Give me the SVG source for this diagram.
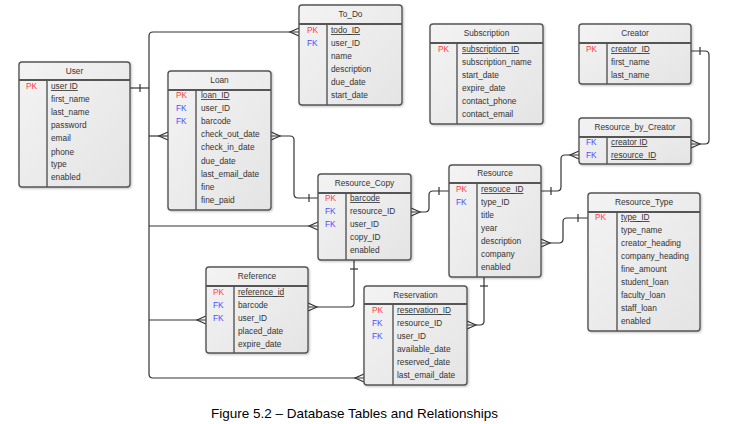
<svg xmlns="http://www.w3.org/2000/svg" width="756" height="424" viewBox="0 0 756 424">
<defs>
<linearGradient id="g" x1="0" y1="0" x2="1" y2="1">
<stop offset="0" stop-color="#f3f3f3"/>
<stop offset="1" stop-color="#e4e4e4"/>
</linearGradient>
<filter id="sh" x="-10%" y="-10%" width="130%" height="130%">
<feDropShadow dx="1" dy="1" stdDeviation="0.8" flood-color="#000" flood-opacity="0.25"/>
</filter>
</defs>
<style>
.box{fill:url(#g);stroke:#555;stroke-width:1.4;filter:url(#sh)}
.hd{stroke:#555;stroke-width:1.8}
.dv{stroke:#555;stroke-width:1.4}
text{font-family:"Liberation Sans",Arial,sans-serif;font-size:8.3px;fill:#333}
.t{text-anchor:middle}
.pk{fill:#ff3b3b}
.fk{fill:#4a4aff}
.u{text-decoration:underline}
.c{fill:none;stroke:#333;stroke-width:1.2}
.cap{font-size:13.5px;fill:#000;text-anchor:middle}
</style>
<rect width="756" height="424" fill="#fff"/>

<g id="connectors" class="c">
<path d="M130,88 H149"/>
<path d="M140,84 V92"/>
<path d="M299,32 H153 Q149,32 149,36 V374 Q149,378 153,378 H364"/>
<path d="M299,28 L290,32 L299,36"/>
<path d="M149,136 H168"/>
<path d="M168,132 L159,136 L168,140"/>
<path d="M149,226 H318"/>
<path d="M318,222 L309,226 L318,230"/>
<path d="M149,320 H206"/>
<path d="M206,316 L197,320 L206,324"/>
<path d="M364,374 L355,378 L364,382"/>
<path d="M271,136 H290 Q294,136 294,140 V194 Q294,198 298,198 H318"/>
<path d="M271,132 L280,136 L271,140"/>
<path d="M309,194 V202"/>
<path d="M411,212 H425 Q429,212 429,208 V195 Q429,191 433,191 H449"/>
<path d="M411,208 L420,212 L411,216"/>
<path d="M439,187 V195"/>
<path d="M541,191 H557 Q561,191 561,187 V159 Q561,155 565,155 H579"/>
<path d="M551,187 V195"/>
<path d="M579,151 L570,155 L579,159"/>
<path d="M691,51 H705 Q709,51 709,55 V140 Q709,144 705,144 H691"/>
<path d="M700,47 V55"/>
<path d="M691,140 L700,144 L691,148"/>
<path d="M541,243 H559 Q563,243 563,239 V222 Q563,218 567,218 H588"/>
<path d="M541,239 L550,243 L541,247"/>
<path d="M578,214 V222"/>
<path d="M354,260 V303 Q354,307 350,307 H308"/>
<path d="M350,269 H358"/>
<path d="M308,303 L317,307 L308,311"/>
<path d="M484,277 V321 Q484,325 480,325 H467"/>
<path d="M480,286 H488"/>
<path d="M467,321 L476,325 L467,329"/>
</g>

<g id="user">
<rect class="box" x="19" y="62" width="111" height="125" rx="3"/>
<line class="hd" x1="19" y1="80" x2="130" y2="80"/>
<line class="dv" x1="47" y1="80" x2="47" y2="187"/>
<text class="t" x="74.5" y="74">User</text>
<text class="pk" x="26" y="89">PK</text>
<text class="u" x="51" y="89">user ID</text>
<text x="51" y="102">first_name</text>
<text x="51" y="115">last_name</text>
<text x="51" y="128">password</text>
<text x="51" y="141">email</text>
<text x="51" y="155">phone</text>
<text x="51" y="167">type</text>
<text x="51" y="180">enabled</text>
</g>

<g id="loan">
<rect class="box" x="168" y="71" width="103" height="139" rx="3"/>
<line class="hd" x1="168" y1="90" x2="271" y2="90"/>
<line class="dv" x1="196" y1="90" x2="196" y2="210"/>
<text class="t" x="219.5" y="83">Loan</text>
<text class="pk" x="176" y="98">PK</text>
<text class="fk" x="176" y="111">FK</text>
<text class="fk" x="176" y="124">FK</text>
<text class="u" x="201" y="98">loan_ID</text>
<text x="201" y="111">user_ID</text>
<text x="201" y="124">barcode</text>
<text x="201" y="137">check_out_date</text>
<text x="201" y="150">check_in_date</text>
<text x="201" y="164">due_date</text>
<text x="201" y="177">last_email_date</text>
<text x="201" y="190">fine</text>
<text x="201" y="203">fine_paid</text>
</g>

<g id="todo">
<rect class="box" x="299" y="5" width="103" height="100" rx="3"/>
<line class="hd" x1="299" y1="24" x2="402" y2="24"/>
<line class="dv" x1="327" y1="24" x2="327" y2="105"/>
<text class="t" x="350.5" y="17">To_Do</text>
<text class="pk" x="307" y="33">PK</text>
<text class="fk" x="307" y="46">FK</text>
<text class="u" x="331" y="33">todo_ID</text>
<text x="331" y="46">user_ID</text>
<text x="331" y="59">name</text>
<text x="331" y="72">description</text>
<text x="331" y="85">due_date</text>
<text x="331" y="98">start_date</text>
</g>

<g id="subscription">
<rect class="box" x="430" y="24" width="113" height="100" rx="3"/>
<line class="hd" x1="430" y1="43" x2="543" y2="43"/>
<line class="dv" x1="457" y1="43" x2="457" y2="124"/>
<text class="t" x="486.5" y="36">Subscription</text>
<text class="pk" x="438" y="52">PK</text>
<text class="u" x="462" y="52">subscription_ID</text>
<text x="462" y="65">subscription_name</text>
<text x="462" y="78">start_date</text>
<text x="462" y="91">expire_date</text>
<text x="462" y="104">contact_phone</text>
<text x="462" y="117">contact_email</text>
</g>

<g id="creator">
<rect class="box" x="579" y="24" width="112" height="60" rx="3"/>
<line class="hd" x1="579" y1="43" x2="691" y2="43"/>
<line class="dv" x1="607" y1="43" x2="607" y2="84"/>
<text class="t" x="635" y="36">Creator</text>
<text class="pk" x="586" y="52">PK</text>
<text class="u" x="611" y="52">creator_ID</text>
<text x="611" y="65">first_name</text>
<text x="611" y="78">last_name</text>
</g>

<g id="resource_by_creator">
<rect class="box" x="579" y="118" width="112" height="46" rx="3"/>
<line class="hd" x1="579" y1="137" x2="691" y2="137"/>
<line class="dv" x1="607" y1="137" x2="607" y2="164"/>
<text class="t" x="635" y="130">Resource_by_Creator</text>
<text class="fk" x="586" y="145">FK</text>
<text class="fk" x="586" y="158">FK</text>
<text class="u" x="611" y="145">creator ID</text>
<text class="u" x="611" y="158">resource_ID</text>
</g>

<g id="resource_copy">
<rect class="box" x="318" y="174" width="93" height="86" rx="3"/>
<line class="hd" x1="318" y1="193" x2="411" y2="193"/>
<line class="dv" x1="346" y1="193" x2="346" y2="260"/>
<text class="t" x="364.5" y="186">Resource_Copy</text>
<text class="pk" x="325" y="201">PK</text>
<text class="fk" x="325" y="214">FK</text>
<text class="fk" x="325" y="227">FK</text>
<text class="u" x="350" y="201">barcode</text>
<text x="350" y="214">resource_ID</text>
<text x="350" y="227">user_ID</text>
<text x="350" y="240">copy_ID</text>
<text x="350" y="253">enabled</text>
</g>

<g id="resource">
<rect class="box" x="449" y="165" width="92" height="112" rx="3"/>
<line class="hd" x1="449" y1="183" x2="541" y2="183"/>
<line class="dv" x1="477" y1="183" x2="477" y2="277"/>
<text class="t" x="495" y="176">Resource</text>
<text class="pk" x="456" y="192">PK</text>
<text class="fk" x="456" y="205">FK</text>
<text class="u" x="481" y="192">resouce_ID</text>
<text x="481" y="205">type_ID</text>
<text x="481" y="218">title</text>
<text x="481" y="231">year</text>
<text x="481" y="244">description</text>
<text x="481" y="257">company</text>
<text x="481" y="270">enabled</text>
</g>

<g id="resource_type">
<rect class="box" x="588" y="193" width="112" height="138" rx="3"/>
<line class="hd" x1="588" y1="212" x2="700" y2="212"/>
<line class="dv" x1="617" y1="212" x2="617" y2="331"/>
<text class="t" x="644" y="205">Resource_Type</text>
<text class="pk" x="595" y="220">PK</text>
<text class="u" x="621" y="220">type_ID</text>
<text x="621" y="233">type_name</text>
<text x="621" y="246">creator_heading</text>
<text x="621" y="259">company_heading</text>
<text x="621" y="272">fine_amount</text>
<text x="621" y="285">student_loan</text>
<text x="621" y="298">faculty_loan</text>
<text x="621" y="311">staff_loan</text>
<text x="621" y="324">enabled</text>
</g>

<g id="reference">
<rect class="box" x="206" y="267" width="102" height="86" rx="3"/>
<line class="hd" x1="206" y1="286" x2="308" y2="286"/>
<line class="dv" x1="234" y1="286" x2="234" y2="353"/>
<text class="t" x="257" y="279">Reference</text>
<text class="pk" x="213" y="295">PK</text>
<text class="fk" x="213" y="308">FK</text>
<text class="fk" x="213" y="321">FK</text>
<text class="u" x="238" y="295">reference_id</text>
<text x="238" y="308">barcode</text>
<text x="238" y="321">user_ID</text>
<text x="238" y="334">placed_date</text>
<text x="238" y="347">expire_date</text>
</g>

<g id="reservation">
<rect class="box" x="364" y="286" width="103" height="99" rx="3"/>
<line class="hd" x1="364" y1="304" x2="467" y2="304"/>
<line class="dv" x1="393" y1="304" x2="393" y2="385"/>
<text class="t" x="415.5" y="298">Reservation</text>
<text class="pk" x="372" y="313">PK</text>
<text class="fk" x="372" y="326">FK</text>
<text class="fk" x="372" y="339">FK</text>
<text class="u" x="397" y="313">reservation_ID</text>
<text x="397" y="326">resource_ID</text>
<text x="397" y="339">user_ID</text>
<text x="397" y="352">available_date</text>
<text x="397" y="365">reserved_date</text>
<text x="397" y="378">last_email_date</text>
</g>

<text class="cap" x="354.5" y="418">Figure 5.2 – Database Tables and Relationships</text>
</svg>
